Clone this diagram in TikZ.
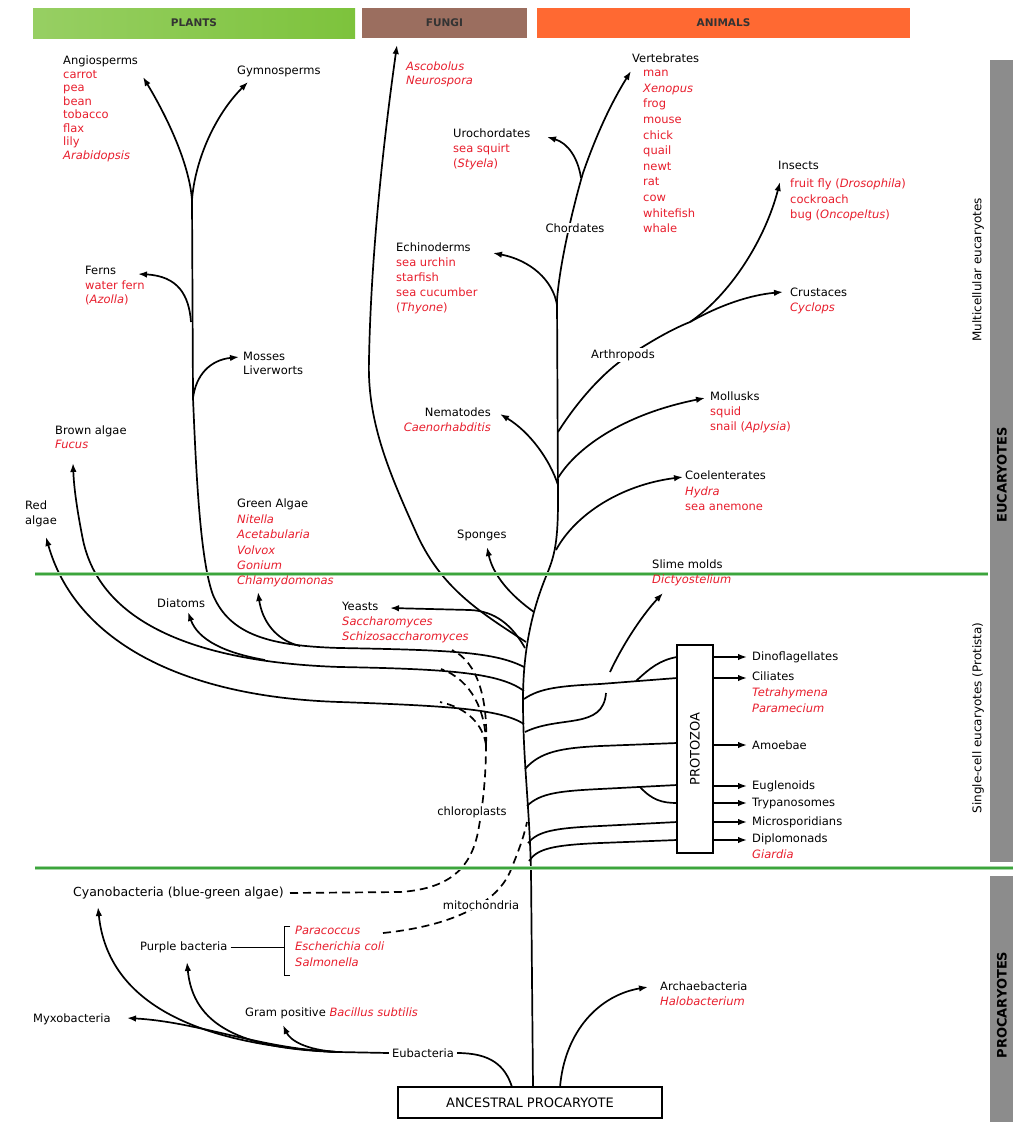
\documentclass[tikz,border=0pt]{standalone}
\usepackage{fontspec}
\setmainfont{DejaVu Sans}
\usetikzlibrary{arrows.meta}
\definecolor{myred}{RGB}{232,30,45}
\definecolor{mygreen}{RGB}{60,165,60}
\definecolor{plantgreen}{RGB}{125,195,60}
\definecolor{fungibrown}{RGB}{155,110,95}
\definecolor{animalorange}{RGB}{255,105,50}
\definecolor{sidegray}{RGB}{140,140,140}
\newcommand{\rd}[1]{\textcolor{myred}{#1}}
\newcommand{\ri}[1]{\textcolor{myred}{\itshape #1}}
\begin{document}
\begin{tikzpicture}[x=1pt,y=-1pt,
  br/.style={line width=1.7pt, draw=black},
  ar/.style={br, -{Latex[length=9pt,width=6.5pt]}},
  dsh/.style={line width=1.7pt, dash pattern=on 8pt off 5pt},
  sp/.style={font=\fontsize{11.5}{#1}\selectfont},
  lbl/.style={inner sep=0pt, align=left, anchor=north west, sp=15},
  one/.style={inner sep=0pt, anchor=west, sp=14},
  wlbl/.style={inner sep=1pt, fill=white, sp=14},
  bartxt/.style={font=\fontsize{10.5}{12}\selectfont\bfseries, text=black!80},
  sidetxt/.style={rotate=90, font=\fontsize{12}{14}\selectfont},
  sidebold/.style={rotate=90, font=\fontsize{13}{14}\selectfont\bfseries}
]
\useasboundingbox (0,0) rectangle (1013,1133);
\fill[white] (0,0) rectangle (1013,1133);

% ---- top bars ----
\node[bartxt, minimum width=322pt, minimum height=30pt, inner sep=0pt, left color=plantgreen!80!white, right color=plantgreen, draw=none] (plants) at (194,23) {PLANTS};
\node[bartxt, minimum width=165pt, minimum height=30pt, inner sep=0pt, fill=fungibrown] (fungi) at (444.5,23) {FUNGI};
\node[bartxt, minimum width=373pt, minimum height=30pt, inner sep=0pt, fill=animalorange] (animals) at (723.5,23) {ANIMALS};

% ---- side bars ----
\fill[sidegray] (990,60) rectangle (1013,862);
\fill[sidegray] (990,876) rectangle (1013,1122);
\node[sidetxt] (multi) at (978,270) {Multicellular eucaryotes};
\node[sidebold] (euc) at (1002,475) {EUCARYOTES};
\node[sidetxt] (single) at (978,718) {Single-cell eucaryotes (Protista)};
\node[sidebold] (proc) at (1002,1005) {PROCARYOTES};

% ---- boxes ----
\node[draw, line width=1.2pt, minimum width=264pt, minimum height=31pt, inner sep=0pt, font=\fontsize{13}{14}\selectfont] (anc) at (530,1102.5) {ANCESTRAL PROCARYOTE};
\node[draw, line width=1.2pt, rotate=90, minimum width=208pt, minimum height=36pt, inner sep=0pt, font=\fontsize{13}{14}\selectfont] (pz) at (695,749) {PROTOZOA};

% ---- coordinates ----
\coordinate (root) at (533,1087);
\coordinate (pj) at (192,200);
\coordinate (fj) at (191,322);
\coordinate (mj) at (193,398);
\coordinate (gaj) at (300,646);
\coordinate (dj) at (265,660);
\coordinate (tA) at (524,667);
\coordinate (tB) at (524,691);
\coordinate (tC) at (524,724);
\coordinate (tF) at (526,642);
\coordinate (tY) at (525,648);
\coordinate (uj) at (581,178);
\coordinate (ej) at (557,305);
\coordinate (nj) at (558,485);
\coordinate (moj) at (558,478);
\coordinate (arj) at (558,432);
\coordinate (ij) at (690,322);
\coordinate (cj) at (556,550);
\coordinate (sj) at (534,612);
\coordinate (tCi) at (524,699);
\coordinate (dnj) at (636,681);
\coordinate (tSl) at (525,732);
\coordinate (slA) at (606,693);
\coordinate (slB) at (610,672);
\coordinate (tAm) at (525,769);
\coordinate (tEu) at (527,806);
\coordinate (trj) at (640,787);
\coordinate (tMi) at (528,843);
\coordinate (tDi) at (529,861);
\coordinate (cyE) at (290,893);
\coordinate (chj) at (486,745);
\coordinate (ew) at (338,1052);
\coordinate (eubR) at (512,1087);
\coordinate (arcR) at (560,1087);

% ---- main trunk ----
\draw[ar] (root) -- (531,870) .. controls (529,800) and (523,760) .. (523,700)
  .. controls (523,650) and (532,610) .. (547,574)
  .. controls (555,555) and (558,540) .. (558,500) -- (557,300)
  .. controls (560,260) and (575,200) .. (583,173)
  .. controls (598,130) and (613,100) .. (631,71);

% ---- animals ----
\draw[ar] (uj) .. controls (578,158) and (568,143) .. (547,137);
\draw[ar] (ej) .. controls (553,280) and (530,260) .. (493,253);
\draw[ar] (nj) .. controls (550,460) and (530,432) .. (500,414);
\draw[ar] (moj) .. controls (575,450) and (620,415) .. (705,398);
\draw[br] (arj) .. controls (575,405) and (600,375) .. (625,358) .. controls (650,342) and (670,330) .. (ij);
\draw[ar] (ij) .. controls (730,295) and (765,240) .. (780,182);
\draw[ar] (ij) .. controls (720,305) and (750,295) .. (783,292);
\draw[ar] (cj) .. controls (575,515) and (620,485) .. (683,477);
\draw[ar] (sj) .. controls (510,595) and (493,575) .. (487,547);

% ---- fungi ----
\draw[ar] (tF) .. controls (480,612) and (440,588) .. (415,530) .. controls (388,470) and (367,420) .. (369,360) .. controls (371,250) and (385,130) .. (397,45);
\draw[ar] (tY) .. controls (512,625) and (495,611) .. (470,610) -- (390,608);

% ---- plants / algae ----
\draw[br] (tA) .. controls (495,652) and (450,650) .. (340,648) .. controls (270,646) and (230,635) .. (213,595) .. controls (200,560) and (196,470) .. (mj) -- (pj);
\draw[ar] (pj) .. controls (189,160) and (163,110) .. (143,77);
\draw[ar] (pj) .. controls (195,160) and (215,115) .. (248,82);
\draw[ar] (fj) .. controls (189,295) and (178,276) .. (138,274);
\draw[ar] (mj) .. controls (196,375) and (210,360) .. (239,357);
\draw[ar] (gaj) .. controls (275,640) and (262,620) .. (258,592);
\draw[ar] (tB) .. controls (500,673) and (450,669) .. (340,667) .. controls (190,662) and (100,620) .. (83,540) .. controls (78,515) and (74,490) .. (73,463);
\draw[ar] (dj) .. controls (225,653) and (198,640) .. (188,612);
\draw[ar] (tC) .. controls (500,709) and (450,706) .. (340,702) .. controls (180,697) and (75,640) .. (46,537);

% ---- protista ----
\draw[br] (tCi) .. controls (540,688) and (560,686) .. (600,684) -- (677,678);
\draw[br] (dnj) .. controls (650,668) and (660,660) .. (677,657);
\draw[br] (tSl) .. controls (560,715) and (603,730) .. (slA);
\draw[ar] (slB) .. controls (625,640) and (645,612) .. (663,593);
\draw[br] (tAm) .. controls (540,752) and (560,748) .. (600,746) -- (677,743);
\draw[br] (tEu) .. controls (540,793) and (560,791) .. (600,789) -- (677,785);
\draw[br] (trj) .. controls (652,800) and (662,803) .. (677,803);
\draw[br] (tMi) .. controls (538,831) and (555,828) .. (600,826) -- (677,822);
\draw[br] (tDi) .. controls (537,849) and (552,845) .. (600,843) -- (677,840);
\foreach \yy in {657,678,745,786,803,822,840}
  \draw[ar] (pz.south |- 0,\yy) -- (747,\yy);

% ---- endosymbiosis (dashed) ----
\draw[dsh] (cyE) -- (400,892) .. controls (445,889) and (470,872) .. (478,832) .. controls (484,800) and (486,770) .. (chj);
\draw[dsh] (chj) .. controls (488,700) and (478,662) .. (452,650);
\draw[dsh] (chj) .. controls (486,712) and (472,680) .. (441,669);
\draw[dsh] (chj) .. controls (483,725) and (468,708) .. (440,702);
\draw[dsh] (383,933) .. controls (450,926) and (495,905) .. (510,872) .. controls (518,852) and (523,840) .. (527,822);

% ---- procaryotes ----
\node[one, anchor=center, inner sep=3pt] (eub) at (423,1053) {Eubacteria};
\draw[br] (eubR) .. controls (505,1065) and (490,1053) .. (eub.east);
\draw[br] (eub.west) -- (ew);
\draw[ar] (ew) .. controls (200,1045) and (108,1005) .. (98,907);
\draw[ar] (ew) .. controls (240,1049) and (193,1025) .. (187,962);
\draw[ar] (ew) .. controls (260,1049) and (200,1022) .. (127,1018);
\draw[ar] (ew) .. controls (305,1050) and (290,1040) .. (283,1025);
\draw[ar] (arcR) .. controls (565,1030) and (600,995) .. (648,987);

\node[one] (purple) at (140,947) {Purple bacteria};
\draw[line width=0.9pt] (purple.east) ++(3,0) -- (284,947);
\draw[line width=0.9pt] (290,926) -- (284,926) -- (284,975) -- (290,975);

% ---- green separator lines ----
\draw[mygreen!45, line width=3.5pt] (35,574) -- (988,574);
\draw[mygreen!45, line width=3.5pt] (35,868) -- (1013,868);
\draw[mygreen, line width=1.6pt] (35,574) -- (988,574);
\draw[mygreen, line width=1.6pt] (35,868) -- (1013,868);

% ---- labels ----
\node[lbl, sp=13.5] (angio) at (63,56) {Angiosperms\\\rd{carrot}\\\rd{pea}\\\rd{bean}\\\rd{tobacco}\\\rd{flax}\\\rd{lily}\\\ri{Arabidopsis}};
\node[one] (gymno) at (237,71) {Gymnosperms};
\node[lbl, sp=14.5] (ferns) at (85,266) {Ferns\\\rd{water fern}\\\rd{(\textit{Azolla})}};
\node[lbl, sp=14] (mosses) at (243,352) {Mosses\\Liverworts};
\node[lbl, sp=14] (brown) at (55,426) {Brown algae\\\ri{Fucus}};
\node[lbl, sp=15] (redalg) at (25,501) {Red\\algae};
\node[lbl, sp=15.4] (greenalg) at (237,499) {Green Algae\\\ri{Nitella}\\\ri{Acetabularia}\\\ri{Volvox}\\\ri{Gonium}\\\ri{Chlamydomonas}};
\node[one] (diatoms) at (157,603) {Diatoms};
\node[lbl, sp=14] (asco) at (406,62) {\ri{Ascobolus}\\\ri{Neurospora}};
\node[lbl, sp=15] (yeasts) at (342,602) {Yeasts\\\ri{Saccharomyces}\\\ri{Schizosaccharomyces}};
\node[one] (vert) at (632,58) {Vertebrates};
\node[lbl, sp=15.6] (vlist) at (643,70) {\rd{man}\\\ri{Xenopus}\\\rd{frog}\\\rd{mouse}\\\rd{chick}\\\rd{quail}\\\rd{newt}\\\rd{rat}\\\rd{cow}\\\rd{whitefish}\\\rd{whale}};
\node[lbl, sp=15] (uro) at (453,129) {Urochordates\\\rd{sea squirt}\\\rd{(\textit{Styela})}};
\node[wlbl] (chord) at (575,228) {Chordates};
\node[lbl, sp=15] (echino) at (396,243) {Echinoderms\\\rd{sea urchin}\\\rd{starfish}\\\rd{sea cucumber}\\\rd{(\textit{Thyone})}};
\node[one] (insects) at (778,165) {Insects};
\node[lbl, sp=15.5] (ilist) at (790,179) {\rd{fruit fly (\textit{Drosophila})}\\\rd{cockroach}\\\rd{bug (\textit{Oncopeltus})}};
\node[lbl, sp=15] (crust) at (790,288) {Crustaces\\\ri{Cyclops}};
\node[wlbl] (arthro) at (623,355) {Arthropods};
\node[lbl, sp=15] (moll) at (710,392) {Mollusks\\\rd{squid}\\\rd{snail (\textit{Aplysia})}};
\node[lbl, sp=15, anchor=north east, align=right] (nema) at (491,408) {Nematodes\\\ri{Caenorhabditis}};
\node[lbl, sp=15.5] (coel) at (685,471) {Coelenterates\\\ri{Hydra}\\\rd{sea anemone}};
\node[one] (sponges) at (457,535) {Sponges};
\node[lbl, sp=15] (slime) at (652,560) {Slime molds\\\ri{Dictyostelium}};
\node[one] (dino) at (752,657) {Dinoflagellates};
\node[lbl, sp=16] (cil) at (752,672) {Ciliates\\\ri{Tetrahymena}\\\ri{Paramecium}};
\node[one] (amoe) at (752,745) {Amoebae};
\node[one] (eug) at (752,786) {Euglenoids};
\node[one] (tryp) at (752,803) {Trypanosomes};
\node[one] (micro) at (752,822) {Microsporidians};
\node[lbl, sp=16] (diplo) at (752,834) {Diplomonads\\\ri{Giardia}};
\node[wlbl] (chloro) at (472,812) {chloroplasts};
\node[wlbl] (mito) at (481,905) {mitochondria};
\node[one, sp=14, font=\fontsize{12.5}{14}\selectfont] (cyano) at (73,893) {Cyanobacteria (blue-green algae)};
\node[lbl, sp=16] (para) at (295,926) {\ri{Paracoccus}\\\ri{Escherichia coli}\\\ri{Salmonella}};
\node[one] (gram) at (245,1013) {Gram positive \ri{Bacillus subtilis}};
\node[one] (myxo) at (33,1019) {Myxobacteria};
\node[lbl, sp=15] (archae) at (660,982) {Archaebacteria\\\ri{Halobacterium}};
\end{tikzpicture}
\end{document}
